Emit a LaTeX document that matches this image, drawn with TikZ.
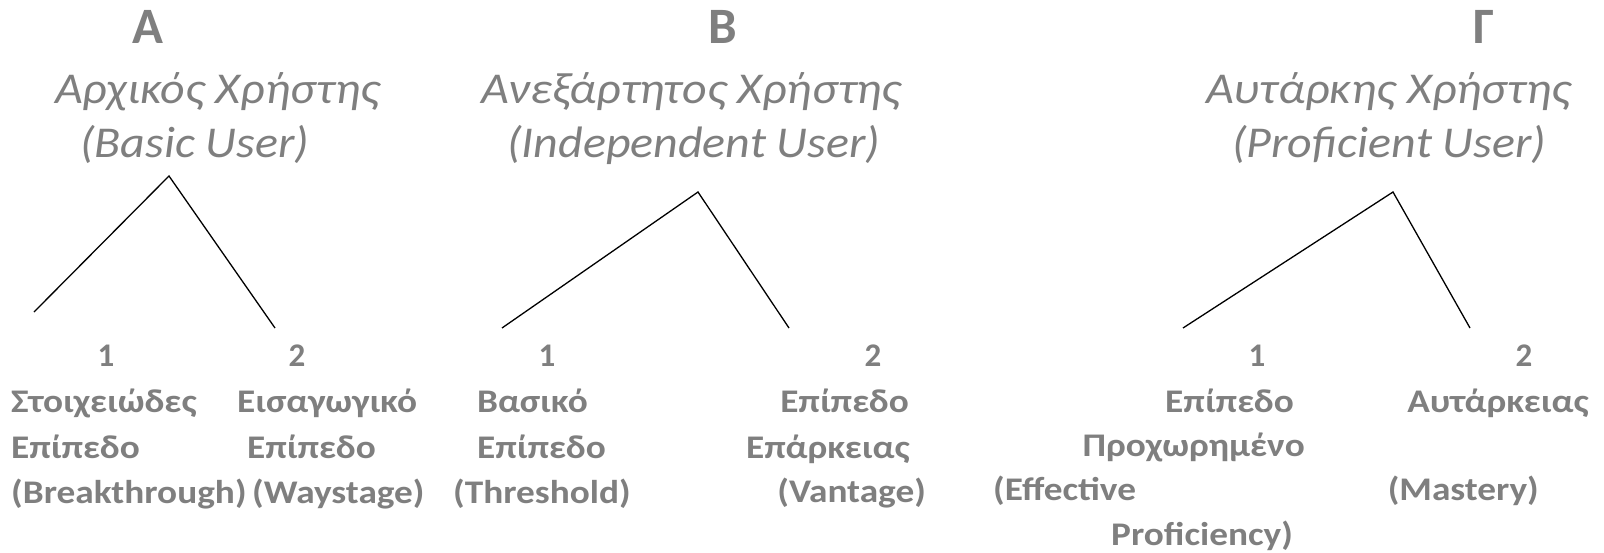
\documentclass[tikz,border=0pt]{standalone}
\usepackage{graphicx}
\usepackage{fontspec}
\setmainfont{Carlito}
\definecolor{tgray}{RGB}{127,127,127}
\newcommand{\bstr}[1]{\scalebox{1.13}[1]{#1}}
\newcommand{\istr}[1]{\scalebox{1.09}[1]{#1}}
\begin{document}
\begin{tikzpicture}[x=1pt,y=-1pt,
  head/.style={font=\fontsize{51}{60}\selectfont\bfseries, text=tgray, inner sep=0pt, anchor=base},
  ttl/.style={font=\fontsize{44}{54}\selectfont\itshape, text=tgray, inner sep=0pt, anchor=base west},
  lvl/.style={font=\fontsize{33}{45}\selectfont\bfseries, text=tgray, inner sep=0pt, anchor=base west},
  lvlr/.style={lvl, anchor=base east},
  num/.style={lvl, anchor=base},
  branch/.style={draw=black, line width=1.3pt, line join=miter}]
\fill[white] (0,0) rectangle (1604,552);
\useasboundingbox (0,0) rectangle (1604,552);
% --- A ---
\node[head] (hA) at (148,43) {A};
\node[ttl] (tA1) at (55,103) {\istr{Αρχικός Χρήστης}};
\node[ttl] (tA2) at (80,157) {\istr{(Basic User)}};
\node[num] (nA1) at (106,366) {1};
\node[num] (nA2) at (297,366) {2};
\node[lvl] (a11) at (11,412) {\bstr{Στοιχειώδες}};
\node[lvl] (a12) at (11,458) {\bstr{Επίπεδο}};
\node[lvl] (a13) at (11,503) {\bstr{(Breakthrough)}};
\node[lvl] (a21) at (237,412) {\bstr{Εισαγωγικό}};
\node[lvl] (a22) at (247,458) {\bstr{Επίπεδο}};
\node[lvl] (a23) at (252,503) {\bstr{(Waystage)}};
\coordinate (Atop) at (169,176);
\coordinate (Al) at (34,312);
\coordinate (Ar) at (275,328);
\draw[branch] (Al) -- (Atop) -- (Ar);
% --- B ---
\node[head] (hB) at (723,43) {B};
\node[ttl] (tB1) at (481,103) {\istr{Ανεξάρτητος Χρήστης}};
\node[ttl] (tB2) at (507,157) {\istr{(Independent User)}};
\node[num] (nB1) at (547,366) {1};
\node[num] (nB2) at (873,366) {2};
\node[lvl] (b11) at (477,412) {\bstr{Βασικό}};
\node[lvl] (b12) at (477,458) {\bstr{Επίπεδο}};
\node[lvl] (b13) at (453,503) {\bstr{(Threshold)}};
\node[lvlr] (b21) at (909,412) {\bstr{Επίπεδο}};
\node[lvlr] (b22) at (910,458) {\bstr{Επάρκειας}};
\node[lvlr] (b23) at (926,502) {\bstr{(Vantage)}};
\coordinate (Btop) at (698,192);
\coordinate (Bl) at (502,328);
\coordinate (Br) at (789,328);
\draw[branch] (Bl) -- (Btop) -- (Br);
% --- Gamma ---
\node[head] (hC) at (1484,43) {Γ};
\node[ttl] (tC1) at (1206,103) {\istr{Αυτάρκης Χρήστης}};
\node[ttl] (tC2) at (1232,157) {\istr{(Proficient User)}};
\node[num] (nC1) at (1257,366) {1};
\node[num] (nC2) at (1524,366) {2};
\node[lvl] (c11) at (1165,412) {\bstr{Επίπεδο}};
\node[lvlr] (c12) at (1305,456) {\bstr{Προχωρημένο}};
\node[lvl] (c13) at (993,500) {\bstr{(Effective}};
\node[lvl] (c14) at (1111,545) {\bstr{Proficiency)}};
\node[lvlr] (c21) at (1589,412) {\bstr{Αυτάρκειας}};
\node[lvlr] (c22) at (1539,500) {\bstr{(Mastery)}};
\coordinate (Ctop) at (1393,192);
\coordinate (Cl) at (1183,328);
\coordinate (Cr) at (1470,328);
\draw[branch] (Cl) -- (Ctop) -- (Cr);
\end{tikzpicture}
\end{document}
